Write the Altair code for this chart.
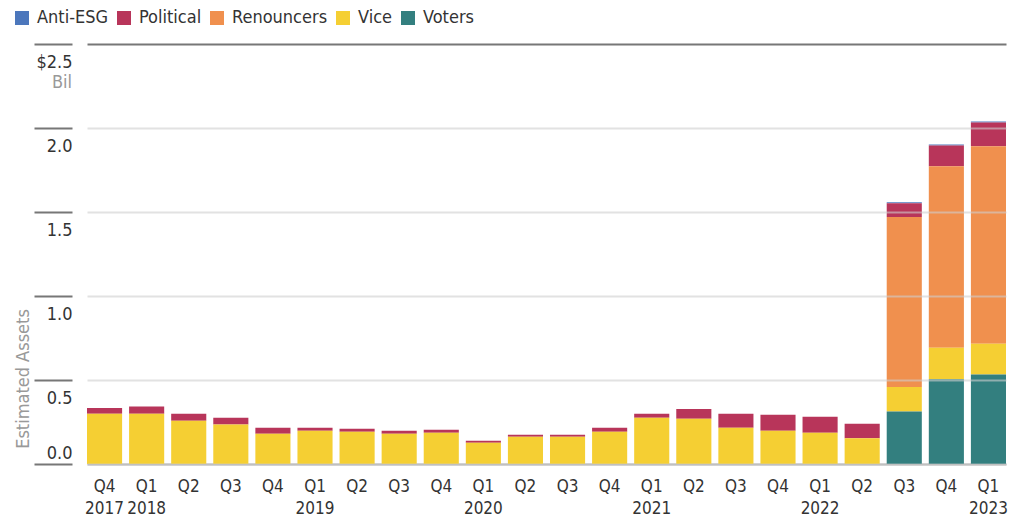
import altair as alt
import pandas as pd

quarters = ["Q4 2017", "Q1 2018", "Q2 2018", "Q3 2018", "Q4 2018",
            "Q1 2019", "Q2 2019", "Q3 2019", "Q4 2019",
            "Q1 2020", "Q2 2020", "Q3 2020", "Q4 2020",
            "Q1 2021", "Q2 2021", "Q3 2021", "Q4 2021",
            "Q1 2022", "Q2 2022", "Q3 2022", "Q4 2022", "Q1 2023"]

voters = [0, 0, 0, 0, 0, 0, 0, 0, 0, 0, 0, 0, 0, 0, 0, 0, 0, 0, 0,
          0.312, 0.505, 0.532]
vice = [0.299, 0.299, 0.257, 0.235, 0.180, 0.198, 0.192, 0.180, 0.186,
        0.126, 0.162, 0.162, 0.192, 0.275, 0.269, 0.216, 0.198, 0.186,
        0.154, 0.147, 0.187, 0.184]
renouncers = [0, 0, 0, 0, 0, 0, 0, 0, 0, 0, 0, 0, 0, 0, 0, 0, 0, 0, 0,
              1.011, 1.081, 1.176]
political = [0.035, 0.043, 0.042, 0.040, 0.036, 0.018, 0.018, 0.018, 0.018,
             0.012, 0.012, 0.012, 0.024, 0.024, 0.059, 0.083, 0.095, 0.095,
             0.085, 0.082, 0.123, 0.141]
anti_esg = [0, 0, 0, 0, 0, 0, 0, 0, 0, 0, 0, 0, 0, 0, 0, 0, 0, 0, 0,
            0.006, 0.006, 0.006]

series_names = ["Anti-ESG", "Political", "Renouncers", "Vice", "Voters"]
series_colors = ["#4C77BC", "#B8355A", "#F0904E", "#F5CF33", "#337F7F"]
stack_rank = {"Voters": 0, "Vice": 1, "Renouncers": 2, "Political": 3, "Anti-ESG": 4}

y_ticks = [0, 0.5, 1.0, 1.5, 2.0, 2.5]

series_values = {"Anti-ESG": anti_esg, "Political": political,
                 "Renouncers": renouncers, "Vice": vice, "Voters": voters}

rows = []
for name in series_names:
    for q, v in zip(quarters, series_values[name]):
        rows.append({"quarter": q, "group": name, "value": v, "rank": stack_rank[name]})
df = pd.DataFrame(rows)

FONT = "Liberation Sans Narrow, DejaVu Sans Condensed, Roboto Condensed, Roboto, sans-serif"
FS = 18
XFS = 17

x_label_expr = ("datum.value == 'Q4 2017' || substring(datum.value, 0, 2) == 'Q1' "
                "? split(datum.value, ' ') : substring(datum.value, 0, 2)")

bars = alt.Chart(df).mark_bar(stroke=None).encode(
    x=alt.X("quarter:N", sort=quarters,
            scale=alt.Scale(paddingInner=0.166, paddingOuter=0),
            axis=alt.Axis(title=None, labelAngle=0, ticks=False,
                          labelExpr=x_label_expr, labelFont=FONT, labelFontSize=XFS,
                          labelColor="#333333", labelPadding=14, labelLineHeight=22,
                          labelBaseline="top",
                          domainColor="#aaaaaa", domainWidth=2)),
    y=alt.Y("value:Q", stack="zero",
            scale=alt.Scale(domain=[0, 2.5], nice=False),
            axis=alt.Axis(title=None, values=y_ticks, offset=15, tickSize=38,
                          tickColor="#777777", tickWidth=2, domain=False,
                          grid=True, gridWidth=2, zindex=1,
                          gridColor={"condition": {"test": "datum.value == 2.5", "value": "#777777"},
                                     "value": "#cfcfcf"},
                          gridOpacity={"condition": {"test": "datum.value == 2.5", "value": 1},
                                       "value": 0.6},
                          labelExpr="datum.value == 2.5 ? '$2.5' : format(datum.value, '.1f')",
                          labelAlign="right", labelPadding=-38,
                          labelBaseline={"condition": {"test": "datum.value == 0", "value": "alphabetic"},
                                         "value": "top"},
                          labelOffset={"condition": {"test": "datum.value == 0", "value": -6},
                                       "value": 9},
                          labelFont=FONT, labelFontSize=FS, labelColor="#333333")),
    color=alt.Color("group:N", sort=series_names,
                    scale=alt.Scale(domain=series_names, range=series_colors),
                    legend=alt.Legend(title=None, orient="none", direction="horizontal",
                                      legendX=-74, legendY=-35, symbolType="square",
                                      symbolSize=196, symbolStrokeWidth=0,
                                      labelFont=FONT, labelFontSize=FS, labelColor="#333333",
                                      labelOffset=6, columnPadding=6)),
    order=alt.Order("rank:Q", sort="ascending"),
)

bil = alt.Chart(pd.DataFrame({"t": ["Bil"]})).mark_text(
    align="right", baseline="middle", font=FONT, fontSize=FS, color="#999999"
).encode(x=alt.value(-15), y=alt.value(39), text="t:N")

ytitle = alt.Chart(pd.DataFrame({"t": ["Estimated Assets"]})).mark_text(
    align="center", baseline="middle", angle=270, font=FONT, fontSize=FS, color="#999999"
).encode(x=alt.value(-63), y=alt.value(335), text="t:N")

chart = alt.layer(bars, bil, ytitle).properties(
    width=919, height=420,
    autosize=alt.AutoSizeParams(type="none"),
    padding={"left": 87, "top": 44, "right": 13, "bottom": 56},
).configure_view(stroke=None)

chart.save("out.html", embed_options={"renderer": "svg", "actions": False})
